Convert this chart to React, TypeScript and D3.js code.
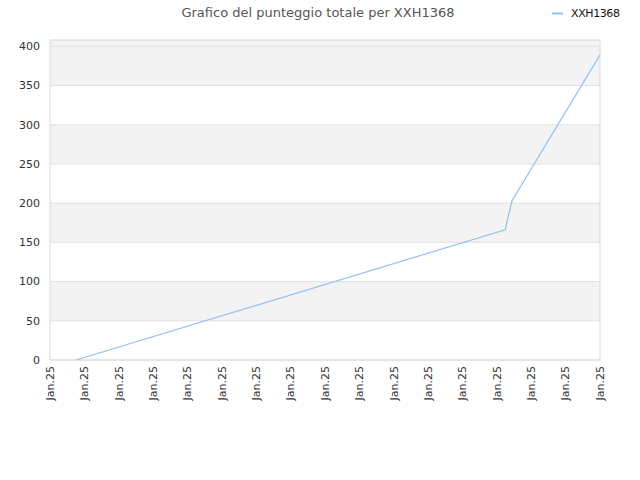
import React from "react";
import * as d3 from "d3";

const chartTitle = "Grafico del punteggio totale per XXH1368";
const seriesName = "XXH1368";

const tickLabels = [
  "Jan.25", "Jan.25", "Jan.25", "Jan.25", "Jan.25", "Jan.25",
  "Jan.25", "Jan.25", "Jan.25", "Jan.25", "Jan.25", "Jan.25",
  "Jan.25", "Jan.25", "Jan.25", "Jan.25", "Jan.25",
];

// position along the x axis, in tick steps, and the total score there
const pointPositions = [0.76, 13.24, 13.44, 16];
const pointScores = [0, 166, 203, 389];

const yTicks = [0, 50, 100, 150, 200, 250, 300, 350, 400];

const width = 640;
const height = 480;
const margin = { top: 40, right: 40, bottom: 120, left: 50 };

const App: React.FC = () => {
  const innerW = width - margin.left - margin.right;
  const innerH = height - margin.top - margin.bottom;

  const x = d3.scaleLinear().domain([0, tickLabels.length - 1]).range([0, innerW]);
  const y = d3.scaleLinear().domain([0, 408]).range([innerH, 0]);

  const points = pointPositions.map((p, i) => [p, pointScores[i]] as [number, number]);
  const line = d3
    .line<[number, number]>()
    .x((d) => x(d[0]))
    .y((d) => y(d[1]));

  // bands between ticks; every second one is grey, plus the strip above the last tick
  const bandEdges = [...yTicks, y.domain()[1]];
  const bands: [number, number][] = [];
  for (let i = 0; i < bandEdges.length - 1; i++) {
    bands.push([bandEdges[i], bandEdges[i + 1]]);
  }

  const font = "'DejaVu Sans', sans-serif";

  return (
    <svg
      width={width}
      height={height}
      style={{ position: "absolute", left: 0, top: 0, background: "#fff" }}
      fontFamily={font}
    >
      <text x={318} y={17} textAnchor="middle" fontSize={13} fill="#555">
        {chartTitle}
      </text>
      <line x1={552} x2={563} y1={13.5} y2={13.5} stroke="#92c1f4" strokeWidth={2} />
      <text x={571} y={17} fontSize={11} fill="#111" letterSpacing={-0.4}>
        {seriesName}
      </text>

      <g transform={`translate(${margin.left},${margin.top})`}>
        {bands.map(([a, b], i) =>
          i % 2 === 1 || i === bands.length - 1 ? (
            <rect
              key={i}
              x={0}
              y={y(b)}
              width={innerW}
              height={y(a) - y(b)}
              fill="#f3f3f3"
            />
          ) : null,
        )}
        {yTicks.map((t) => (
          <line key={t} x1={0} x2={innerW} y1={y(t)} y2={y(t)} stroke="#e2e2e2" />
        ))}
        <rect
          x={0}
          y={0}
          width={innerW}
          height={innerH}
          fill="none"
          stroke="#dadada"
        />
        {yTicks.map((t) => (
          <text
            key={t}
            x={-10}
            y={y(t)}
            dy="0.35em"
            textAnchor="end"
            fontSize={11}
            fill="#333"
          >
            {t}
          </text>
        ))}
        {tickLabels.map((label, i) => (
          <text
            key={i}
            transform={`translate(${x(i)},${innerH + 6}) rotate(-90)`}
            dy="0.35em"
            textAnchor="end"
            fontSize={11}
            fill="#333"
          >
            {label}
          </text>
        ))}
        <path d={line(points) ?? ""} fill="none" stroke="#92c1f4" strokeWidth={1.2} />
      </g>
    </svg>
  );
};

export default App;
